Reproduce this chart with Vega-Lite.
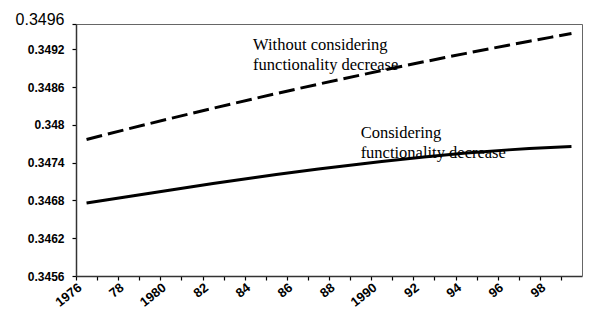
{
  "$schema": "https://vega.github.io/schema/vega-lite/v6.json",
  "width": 506,
  "height": 252,
  "autosize": "none",
  "padding": {"left": 76, "top": 24, "right": 7, "bottom": 42},
  "background": "white",
  "config": {
    "axis": {"grid": false, "ticks": true, "labelFont": "Liberation Sans", "labelColor": "#000000", "domainColor": "#333333", "tickColor": "#000000", "tickWidth": 1.2}
  },
  "resolve": {"axis": {"x": "independent", "y": "independent"}},
  "datasets": {
    "lines": [
      {"year": 1976, "series": "Without", "value": 0.347767},
      {"year": 1977, "series": "Without", "value": 0.347852},
      {"year": 1978, "series": "Without", "value": 0.347937},
      {"year": 1979, "series": "Without", "value": 0.348020},
      {"year": 1980, "series": "Without", "value": 0.348102},
      {"year": 1981, "series": "Without", "value": 0.348183},
      {"year": 1982, "series": "Without", "value": 0.348263},
      {"year": 1983, "series": "Without", "value": 0.348341},
      {"year": 1984, "series": "Without", "value": 0.348419},
      {"year": 1985, "series": "Without", "value": 0.348496},
      {"year": 1986, "series": "Without", "value": 0.348571},
      {"year": 1987, "series": "Without", "value": 0.348645},
      {"year": 1988, "series": "Without", "value": 0.348718},
      {"year": 1989, "series": "Without", "value": 0.348790},
      {"year": 1990, "series": "Without", "value": 0.348861},
      {"year": 1991, "series": "Without", "value": 0.348931},
      {"year": 1992, "series": "Without", "value": 0.349000},
      {"year": 1993, "series": "Without", "value": 0.349067},
      {"year": 1994, "series": "Without", "value": 0.349134},
      {"year": 1995, "series": "Without", "value": 0.349199},
      {"year": 1996, "series": "Without", "value": 0.349263},
      {"year": 1997, "series": "Without", "value": 0.349326},
      {"year": 1998, "series": "Without", "value": 0.349388},
      {"year": 1999, "series": "Without", "value": 0.349448},
      {"year": 1976, "series": "Considering", "value": 0.346759},
      {"year": 1977, "series": "Considering", "value": 0.346811},
      {"year": 1978, "series": "Considering", "value": 0.346863},
      {"year": 1979, "series": "Considering", "value": 0.346914},
      {"year": 1980, "series": "Considering", "value": 0.346965},
      {"year": 1981, "series": "Considering", "value": 0.347016},
      {"year": 1982, "series": "Considering", "value": 0.347067},
      {"year": 1983, "series": "Considering", "value": 0.347116},
      {"year": 1984, "series": "Considering", "value": 0.347165},
      {"year": 1985, "series": "Considering", "value": 0.347210},
      {"year": 1986, "series": "Considering", "value": 0.347254},
      {"year": 1987, "series": "Considering", "value": 0.347297},
      {"year": 1988, "series": "Considering", "value": 0.347338},
      {"year": 1989, "series": "Considering", "value": 0.347378},
      {"year": 1990, "series": "Considering", "value": 0.347418},
      {"year": 1991, "series": "Considering", "value": 0.347454},
      {"year": 1992, "series": "Considering", "value": 0.347489},
      {"year": 1993, "series": "Considering", "value": 0.347521},
      {"year": 1994, "series": "Considering", "value": 0.347551},
      {"year": 1995, "series": "Considering", "value": 0.347578},
      {"year": 1996, "series": "Considering", "value": 0.347602},
      {"year": 1997, "series": "Considering", "value": 0.347622},
      {"year": 1998, "series": "Considering", "value": 0.347640},
      {"year": 1999, "series": "Considering", "value": 0.347654}
    ],
    "labels": [
      {"year": 1983.9, "value": 0.349187, "label": "Without considering\nfunctionality decrease"},
      {"year": 1989, "value": 0.347790, "label": "Considering\nfunctionality decrease"}
    ]
  },
  "layer": [
    {
      "data": {"name": "lines"},
      "transform": [{"filter": "datum.series == 'Without'"}],
      "mark": {"type": "line", "color": "#000000", "strokeWidth": 3, "strokeDash": [16, 6], "strokeCap": "butt"},
      "encoding": {
        "x": {
          "field": "year", "type": "quantitative",
          "scale": {"domain": [1975.5, 1999.5], "nice": false, "zero": false},
          "axis": {
            "title": null, "labelAngle": -38, "tickSize": 4, "ticks": true,
            "values": [1975.5, 1976.5, 1977.5, 1978.5, 1979.5, 1980.5, 1981.5, 1982.5, 1983.5, 1984.5, 1985.5, 1986.5, 1987.5, 1988.5, 1989.5, 1990.5, 1991.5, 1992.5, 1993.5, 1994.5, 1995.5, 1996.5, 1997.5, 1998.5],
            "labelFontSize": 13, "labelFontWeight": "bold", "labelPadding": 1,
            "labelAlign": "right", "labelBaseline": "top",
            "labelOverlap": false, "labelFlush": false, "labelBound": false,
            "domainWidth": 1.5,
            "labelExpr": "(datum.value + 0.5) % 2 == 1 ? '' : (((datum.value + 0.5) % 10 == 0 || datum.value == 1975.5) ? toString(datum.value + 0.5) : substring(toString(datum.value + 0.5), 2, 4))"
          }
        },
        "y": {
          "field": "value", "type": "quantitative",
          "scale": {"domain": [0.3456, 0.3496], "zero": false, "nice": false},
          "axis": {
            "title": null,
            "values": [0.3456, 0.3462, 0.3468, 0.3474, 0.348, 0.3486, 0.3492, 0.3496],
            "format": ".4~f",
            "ticks": true,
            "tickSize": 4,
            "domainWidth": 1.5,
            "labelPadding": 8,
            "labelOverlap": false, "labelFlush": false,
            "labelFontSize": {"condition": {"test": "datum.value > 0.3495", "value": 16}, "value": 12},
            "labelFontWeight": {"condition": {"test": "datum.value > 0.3495", "value": "normal"}, "value": "bold"},
            "labelOffset": {"condition": {"test": "datum.value > 0.3495", "value": -5}, "value": 0}
          }
        }
      }
    },
    {
      "data": {"name": "lines"},
      "transform": [{"filter": "datum.series == 'Considering'"}],
      "mark": {"type": "line", "color": "#000000", "strokeWidth": 3},
      "encoding": {
        "x": {"field": "year", "type": "quantitative", "axis": {"orient": "top", "labels": false, "ticks": false, "title": null, "domainColor": "#666666", "domainWidth": 1}},
        "y": {"field": "value", "type": "quantitative", "axis": {"orient": "right", "labels": false, "ticks": false, "title": null, "domainColor": "#666666", "domainWidth": 1}}
      }
    },
    {
      "data": {"name": "labels"},
      "mark": {"type": "text", "align": "left", "baseline": "alphabetic", "font": "Liberation Serif", "fontSize": 16.5, "fontWeight": "normal", "lineBreak": "\n", "lineHeight": 20, "color": "#000000"},
      "encoding": {
        "x": {"field": "year", "type": "quantitative", "axis": null},
        "y": {"field": "value", "type": "quantitative", "axis": null},
        "text": {"field": "label"}
      }
    }
  ]
}
